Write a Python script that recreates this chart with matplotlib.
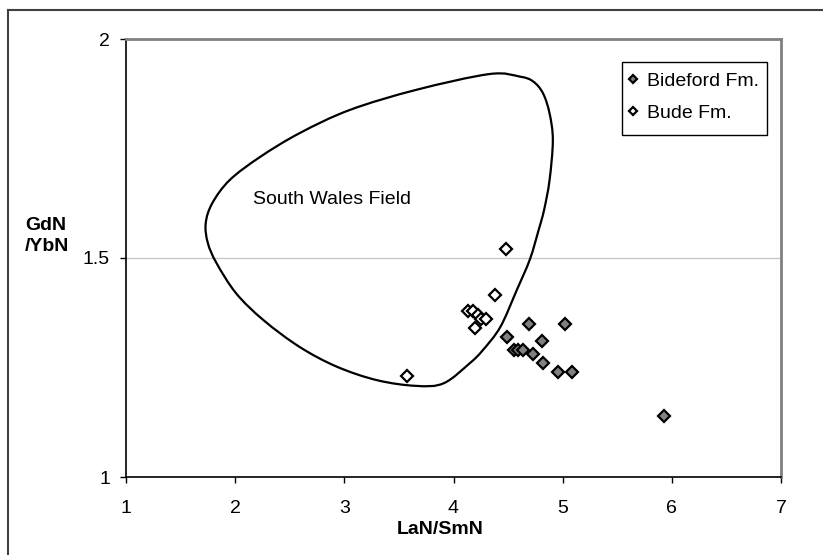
import matplotlib
matplotlib.use("Agg")
import matplotlib.pyplot as plt
from matplotlib.path import Path
from matplotlib.patches import PathPatch, Rectangle
from matplotlib.lines import Line2D
import numpy as np

plt.rcParams['font.family'] = ['Liberation Sans', 'DejaVu Sans']
plt.rcParams['font.size'] = 14

# LaN/SmN vs GdN/YbN
bideford_x = [4.69, 5.02, 4.49, 4.81, 4.55, 4.59, 4.64, 4.73, 4.82, 4.96, 5.09, 5.93]
bideford_y = [1.35, 1.35, 1.32, 1.31, 1.29, 1.29, 1.29, 1.28, 1.26, 1.24, 1.24, 1.14]

bude_x = [4.48, 4.38, 4.13, 4.18, 4.22, 4.25, 4.30, 4.20, 3.57]
bude_y = [1.52, 1.415, 1.38, 1.38, 1.37, 1.36, 1.36, 1.34, 1.23]

# outline of the South Wales field (traced, clockwise from the top)
field_x = [4.33, 4.61, 4.73, 4.82, 4.88, 4.91, 4.88, 4.83, 4.78, 4.70,
           4.58, 4.43, 4.27, 4.15, 3.91, 3.66, 3.30, 2.93, 2.59, 2.26,
           2.01, 1.83, 1.75, 1.73, 1.79, 1.95, 2.23, 2.59, 3.05, 3.66]
field_y = [1.920, 1.914, 1.903, 1.876, 1.830, 1.769, 1.678, 1.610, 1.564, 1.497,
           1.427, 1.343, 1.290, 1.260, 1.214, 1.208, 1.221, 1.252, 1.297, 1.358,
           1.419, 1.488, 1.534, 1.579, 1.625, 1.678, 1.731, 1.785, 1.838, 1.884]

x_ticks = [1, 2, 3, 4, 5, 6, 7]
y_ticks = [1, 1.5, 2]

W, H = 823, 555
fig = plt.figure(figsize=(W / 100, H / 100), dpi=100)
ax = fig.add_axes([126 / W, 1 - 477 / H, 655 / W, 438 / H])

# outer chart border (clipped at right and bottom like the original)
fig.add_artist(Line2D([8 / W, 1], [1 - 10 / H] * 2, color='#404040', lw=1.5))
fig.add_artist(Line2D([8 / W] * 2, [0, 1 - 10 / H], color='#404040', lw=1.5))

# closed smooth outline (Catmull-Rom -> cubic bezier)
pts = np.column_stack([field_x, field_y])
n = len(pts)
verts = [pts[0]]
codes = [Path.MOVETO]
for i in range(n):
    p0, p1, p2, p3 = pts[i - 1], pts[i], pts[(i + 1) % n], pts[(i + 2) % n]
    verts += [p1 + (p2 - p0) / 6, p2 - (p3 - p1) / 6, p2]
    codes += [Path.CURVE4] * 3
ax.add_patch(PathPatch(Path(verts, codes), facecolor='none', edgecolor='black', lw=1.6, zorder=2))

ax.text(2.89, 1.633, 'South Wales Field', ha='center', va='center', fontsize=14)

ax.axhline(1.5, color='#c8c8c8', lw=1, zorder=1)

ax.plot(bideford_x, bideford_y, linestyle='none', marker='D', ms=6, mew=1.6,
        mfc='#808080', mec='black', label='Bideford Fm.', zorder=4)
ax.plot(bude_x, bude_y, linestyle='none', marker='D', ms=6, mew=1.6,
        mfc='white', mec='black', label='Bude Fm.', zorder=4)

ax.set_xlim(1, 7)
ax.set_ylim(1, 2)
ax.set_xticks(x_ticks)
ax.set_yticks(y_ticks)
ax.set_yticklabels(['1', '1.5', '2'])
ax.tick_params(axis='x', direction='out', length=4.5, width=1, pad=12)
ax.tick_params(axis='y', direction='out', length=4.5, width=1, pad=7)

for s in ['top', 'right']:
    ax.spines[s].set_color('#808080')
    ax.spines[s].set_linewidth(2)
for s in ['left', 'bottom']:
    ax.spines[s].set_color('black')
    ax.spines[s].set_linewidth(1.2)

ax.set_xlabel('LaN/SmN', fontweight='bold')
ax.xaxis.set_label_coords(0.479, -0.1)
fig.text(25 / W, 1 - 236 / H, 'GdN\n/YbN', fontweight='bold', ha='left', va='center',
         linespacing=1.25)

# legend: entries without frame, box drawn separately (taller at the bottom)
ax.add_patch(Rectangle((622 / W, 1 - 135 / H), 145 / W, 73 / H, transform=fig.transFigure,
                       facecolor='white', edgecolor='black', lw=1, zorder=4.5, clip_on=False))
leg = ax.legend(loc='upper left', bbox_to_anchor=(623 / W, 1 - 68 / H),
                bbox_transform=fig.transFigure, frameon=False,
                handlelength=0.6, handletextpad=0.45,
                markerscale=0.75, borderpad=0.2, labelspacing=0.75,
                borderaxespad=0)
leg.set_zorder(6)

fig.savefig('out.png', dpi=100)
